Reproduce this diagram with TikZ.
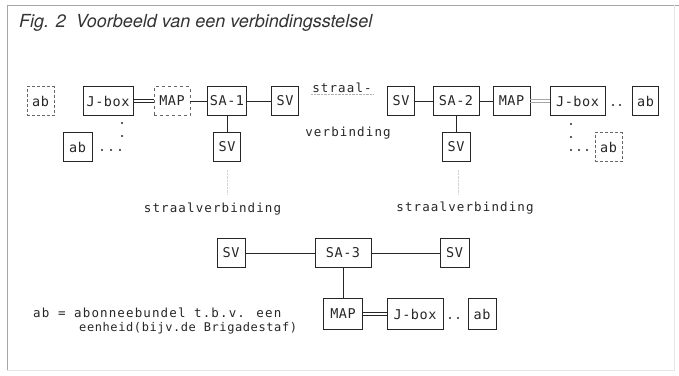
\documentclass[tikz,border=0pt]{standalone}
\usepackage{fontspec}
\newfontfamily\handfont[LetterSpace=9]{DejaVu Sans Mono}
\newfontfamily\boxfont[LetterSpace=4]{DejaVu Sans Mono}
\newfontfamily\handtight[LetterSpace=5]{DejaVu Sans Mono}
\newfontfamily\titlefont{TeX Gyre Heros}
\tikzset{
  blk/.style={draw=black!85, line width=0.9pt, minimum height=29pt, inner sep=0pt,
    text=black!85, font=\boxfont\fontsize{13.5}{15}\selectfont},
  dashblk/.style={blk, draw=black!60, dashed},
  fadeblk/.style={blk, draw=black!60, densely dashed},
  txt/.style={inner sep=1pt, text=black!85, font=\handfont\fontsize{12.5}{14}\selectfont},
  ln/.style={draw=black!85, line width=0.8pt},
  dln/.style={draw=black!85, line width=0.7pt},
  dotpt/.style={fill=black!85}
}
\begin{document}
\begin{tikzpicture}[x=1pt,y=-1pt]
\useasboundingbox (0,0) rectangle (679,375);
% frame and caption
\draw[gray!70] (7,370) -- (7,5) -- (679,5);
\draw[gray!20] (7,370) -- (674,370) -- (674,5);
\node[anchor=base west, inner sep=0pt, text=black!80,
  font=\titlefont\itshape\fontsize{18}{21}\selectfont] (title) at (19,27)
  {Fig. 2\ \ Voorbeeld van een verbindingsstelsel};
% upper left group
\node[fadeblk, minimum width=27pt] (ab0) at (40.5,101) {ab};
\node[blk, minimum width=50pt] (jbox1) at (108,101) {J-box};
\node[dashblk, minimum width=36pt] (map1) at (172,101) {MAP};
\node[blk, minimum width=39pt] (sa1) at (227,101) {SA-1};
\node[blk, minimum width=27pt] (sv1) at (285,101) {SV};
\node[blk, minimum width=29pt] (ab1) at (77.5,147) {ab};
\node[blk, minimum width=27pt] (sv1b) at (227,147) {SV};
% radio link between the groups
\node[txt] (str1) at (342,88) {straal-};
\node[txt] (str2) at (348,133) {verbinding};
% upper right group
\node[blk, minimum width=27pt] (sv2) at (401,101) {SV};
\node[blk, minimum width=46pt] (sa2) at (456,101) {SA-2};
\node[blk, minimum width=37pt] (map2) at (511.5,101) {MAP};
\node[blk, minimum width=55pt] (jbox2) at (577.5,101) {J-box};
\node[blk, minimum width=26pt] (ab2) at (645.5,101) {ab};
\node[blk, minimum width=28pt] (sv2b) at (456,147) {SV};
\node[fadeblk, minimum width=27pt] (ab3) at (608.5,147) {ab};
% radio links down
\node[txt] (str3) at (212.5,209) {straalverbinding};
\node[txt] (str4) at (465,208) {straalverbinding};
% lower group
\node[blk, minimum width=28pt] (sv3a) at (231,253) {SV};
\node[blk, minimum width=56pt] (sa3) at (343,253) {SA-3};
\node[blk, minimum width=29pt] (sv3b) at (454.5,253) {SV};
\node[blk, minimum width=39pt, minimum height=31pt] (map3) at (343,314) {MAP};
\node[blk, minimum width=56pt, minimum height=31pt] (jbox3) at (415,314) {J-box};
\node[blk, minimum width=28pt, minimum height=31pt] (ab4) at (482,314) {ab};
% legend
\node[txt, anchor=west] (leg1) at (32,313) {ab = abonneebundel t.b.v. een};
\node[txt, anchor=west, font=\handtight\fontsize{12}{14}\selectfont] (leg2) at (78,328) {eenheid(bijv.de Brigadestaf)};
% connectors
\draw[dln] ([yshift=-1.4pt]jbox1.east) -- ([yshift=-1.4pt]map1.west);
\draw[dln] ([yshift=1.4pt]jbox1.east) -- ([yshift=1.4pt]map1.west);
\draw[ln] (map1) -- (sa1);
\draw[ln] (sa1) -- (sv1);
\draw[ln] (sa1) -- (sv1b);
\draw[gray!60, densely dotted] (str1.south west) -- (str1.south east);
\draw[ln] (sv2) -- (sa2);
\draw[ln] (sa2) -- (map2);
\draw[dln, draw=black!35] ([yshift=-1.4pt]map2.east) -- ([yshift=-1.4pt]jbox2.west);
\draw[dln, draw=black!35] ([yshift=1.4pt]map2.east) -- ([yshift=1.4pt]jbox2.west);
\draw[ln] (sa2) -- (sv2b);
\draw[ln] (sv3a) -- (sa3);
\draw[ln] (sa3) -- (sv3b);
\draw[ln] (sa3) -- (map3);
\draw[dln] ([yshift=-1.4pt]map3.east) -- ([yshift=-1.4pt]jbox3.west);
\draw[dln] ([yshift=1.4pt]map3.east) -- ([yshift=1.4pt]jbox3.west);
% faint traces below the SV boxes
\draw[gray!35, densely dotted] (sv1b.south) ++(0,8) -- ++(0,24);
\draw[gray!35, densely dotted] (sv2b.south) ++(2,8) -- ++(0,24);
% dots
\foreach \p in {(122,123),(122,136),(102,150),(111,150),(120,150),
  (571,124),(571,137),(571,150),(579,150),(587,150),
  (613,105),(620,105),(450,318),(458,318)}
  \fill[dotpt] \p circle[radius=1.2pt];
\end{tikzpicture}
\end{document}
